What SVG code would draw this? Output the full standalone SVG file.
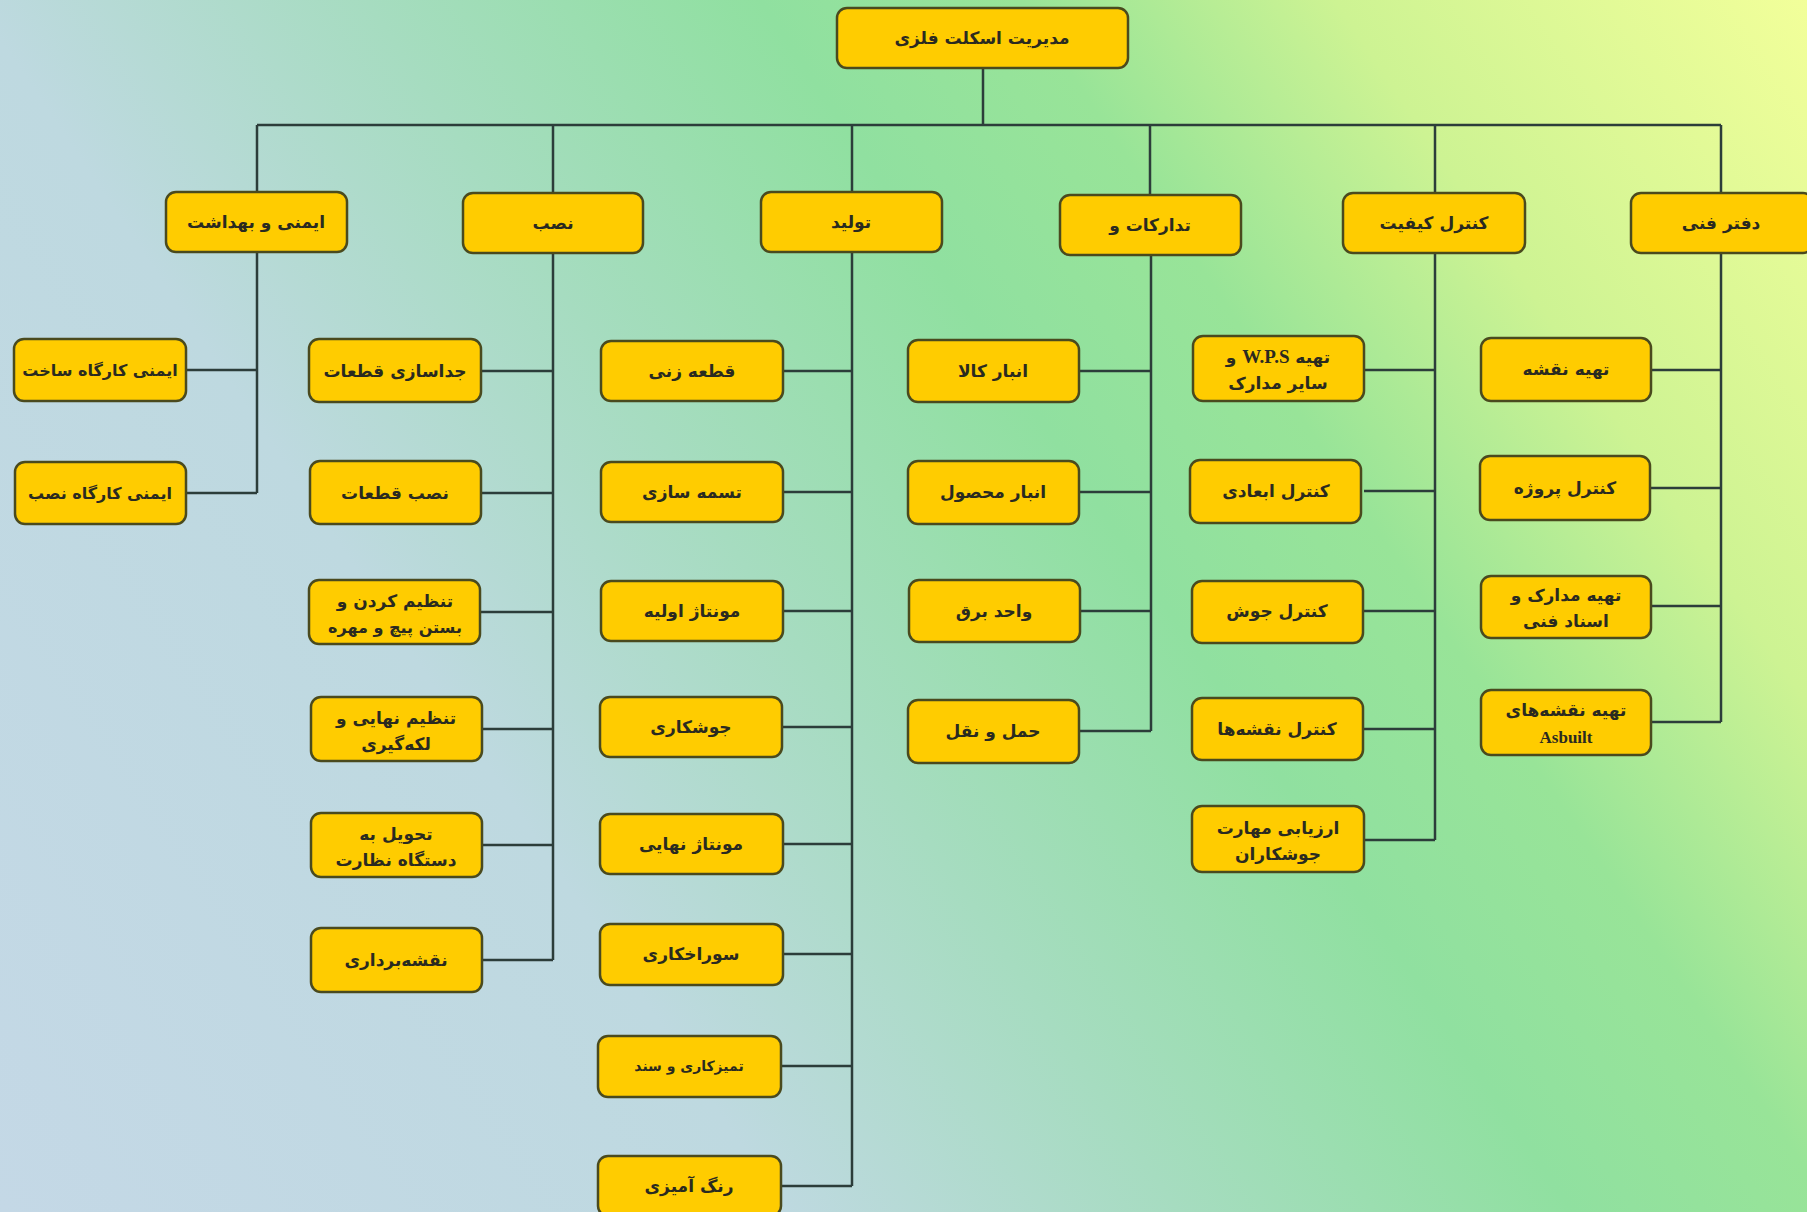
<svg xmlns="http://www.w3.org/2000/svg" width="1807" height="1212" viewBox="0 0 1807 1212">
<defs>
<linearGradient id="bg" gradientUnits="userSpaceOnUse" x1="0" y1="1212" x2="1807" y2="0">
<stop offset="0" stop-color="#c4d8e6"/>
<stop offset="0.3" stop-color="#bed9e0"/>
<stop offset="0.45" stop-color="#a6dcc0"/>
<stop offset="0.6" stop-color="#90e0a0"/>
<stop offset="0.7" stop-color="#98e498"/>
<stop offset="0.82" stop-color="#cdf393"/>
<stop offset="1" stop-color="#f2ff9a"/>
</linearGradient>
<style>
.b{fill:#ffcc00;stroke:#4a4a1e;stroke-width:2.5}
.t{font-family:"DejaVu Sans",sans-serif;font-weight:bold;font-size:17px;fill:#2a2a20;text-anchor:middle}
.m{font-size:16px}
.s{font-family:"DejaVu Sans",sans-serif;font-weight:bold;font-size:14px;fill:#2a2a20;text-anchor:middle}
.l{font-family:"Liberation Serif",serif;font-weight:bold}
.c{fill:none;stroke:#2c3d3a;stroke-width:2.5}
</style>
</defs>
<rect width="1807" height="1212" fill="url(#bg)"/>
<g id="connectors" class="c">
<path d="M983 68V125M257 125H1721M257 125V192M553 125V192M852 125V192M1150 125V195M1435 125V193M1721 125V193"/>
<path d="M257 252V493M186 370H257M186 493H257"/>
<path d="M553 252V960M481 371H553M481 493H553M481 612H553M481 729H553M481 845H553M481 960H553"/>
<path d="M852 252V1186M783 371H852M783 492H852M783 611H852M783 727H852M783 844H852M783 954H852M781 1066H852M781 1186H852"/>
<path d="M1151 255V731M1079 371H1151M1079 492H1151M1079 611H1151M1079 731H1151"/>
<path d="M1435 253V840M1364 370H1435M1364 491H1435M1364 611H1435M1364 729H1435M1364 840H1435"/>
<path d="M1721 253V722M1651 370H1721M1651 488H1721M1651 606H1721M1651 722H1721"/>
</g>
<g id="root"><rect class="b" x="837" y="8" width="291" height="60" rx="10"/><text class="t" x="982" y="44" direction="rtl">مدیریت اسکلت فلزی</text></g>
<g id="safety"><rect class="b" x="166" y="192" width="181" height="60" rx="10"/><text class="t" x="256" y="228" direction="rtl">ایمنی و بهداشت</text></g>
<g id="install"><rect class="b" x="463" y="193" width="180" height="60" rx="10"/><text class="t" x="553" y="229" direction="rtl">نصب</text></g>
<g id="production"><rect class="b" x="761" y="192" width="181" height="60" rx="10"/><text class="t" x="851" y="228" direction="rtl">تولید</text></g>
<g id="procurement"><rect class="b" x="1060" y="195" width="181" height="60" rx="10"/><text class="t" x="1150" y="231" direction="rtl">تدارکات و</text></g>
<g id="qc"><rect class="b" x="1343" y="193" width="182" height="60" rx="10"/><text class="t" x="1434" y="229" direction="rtl">کنترل کیفیت</text></g>
<g id="tech"><rect class="b" x="1631" y="193" width="182" height="60" rx="10"/><text class="t" x="1721" y="229" direction="rtl">دفتر فنی</text></g>

<g id="s1"><rect class="b" x="14" y="339" width="172" height="62" rx="10"/><text class="t m" x="100" y="376" direction="rtl">ایمنی کارگاه ساخت</text></g>
<g id="s2"><rect class="b" x="15" y="462" width="171" height="62" rx="10"/><text class="t m" x="100" y="499" direction="rtl">ایمنی کارگاه نصب</text></g>

<g id="i1"><rect class="b" x="309" y="339" width="172" height="63" rx="10"/><text class="t" x="395" y="377" direction="rtl">جداسازی قطعات</text></g>
<g id="i2"><rect class="b" x="310" y="461" width="171" height="63" rx="10"/><text class="t" x="395" y="499" direction="rtl">نصب قطعات</text></g>
<g id="i3"><rect class="b" x="309" y="580" width="171" height="64" rx="10"/><text class="t" x="395" y="607" direction="rtl">تنظیم کردن و</text><text class="t m" x="395" y="633" direction="rtl">بستن پیچ و مهره</text></g>
<g id="i4"><rect class="b" x="311" y="697" width="171" height="64" rx="10"/><text class="t" x="396" y="724" direction="rtl">تنظیم نهایی و</text><text class="t" x="396" y="750" direction="rtl">لکه‌گیری</text></g>
<g id="i5"><rect class="b" x="311" y="813" width="171" height="64" rx="10"/><text class="t" x="396" y="840" direction="rtl">تحویل به</text><text class="t" x="396" y="866" direction="rtl">دستگاه نظارت</text></g>
<g id="i6"><rect class="b" x="311" y="928" width="171" height="64" rx="10"/><text class="t" x="396" y="966" direction="rtl">نقشه‌برداری</text></g>

<g id="p1"><rect class="b" x="601" y="341" width="182" height="60" rx="10"/><text class="t" x="692" y="377" direction="rtl">قطعه زنی</text></g>
<g id="p2"><rect class="b" x="601" y="462" width="182" height="60" rx="10"/><text class="t" x="692" y="498" direction="rtl">تسمه سازی</text></g>
<g id="p3"><rect class="b" x="601" y="581" width="182" height="60" rx="10"/><text class="t" x="692" y="617" direction="rtl">مونتاژ اولیه</text></g>
<g id="p4"><rect class="b" x="600" y="697" width="182" height="60" rx="10"/><text class="t" x="691" y="733" direction="rtl">جوشکاری</text></g>
<g id="p5"><rect class="b" x="600" y="814" width="183" height="60" rx="10"/><text class="t" x="691" y="850" direction="rtl">مونتاژ نهایی</text></g>
<g id="p6"><rect class="b" x="600" y="924" width="183" height="61" rx="10"/><text class="t" x="691" y="960" direction="rtl">سوراخکاری</text></g>
<g id="p7"><rect class="b" x="598" y="1036" width="183" height="61" rx="10"/><text class="s" x="689" y="1071" direction="rtl">تمیزکاری و سند</text></g>
<g id="p8"><rect class="b" x="598" y="1156" width="183" height="60" rx="10"/><text class="t" x="689" y="1192" direction="rtl">رنگ آمیزی</text></g>

<g id="r1"><rect class="b" x="908" y="340" width="171" height="62" rx="10"/><text class="t" x="993" y="377" direction="rtl">انبار کالا</text></g>
<g id="r2"><rect class="b" x="908" y="461" width="171" height="63" rx="10"/><text class="t" x="993" y="498" direction="rtl">انبار محصول</text></g>
<g id="r3"><rect class="b" x="909" y="580" width="171" height="62" rx="10"/><text class="t" x="994" y="617" direction="rtl">واحد برق</text></g>
<g id="r4"><rect class="b" x="908" y="700" width="171" height="63" rx="10"/><text class="t" x="993" y="737" direction="rtl">حمل و نقل</text></g>

<g id="q1"><rect class="b" x="1193" y="336" width="171" height="65" rx="10"/><text class="t" x="1278" y="363" direction="rtl">تهیه <tspan class="l" font-size="19">W.P.S</tspan> و</text><text class="t" x="1278" y="389" direction="rtl">سایر مدارک</text></g>
<g id="q2"><rect class="b" x="1190" y="460" width="171" height="63" rx="10"/><text class="t" x="1276" y="497" direction="rtl">کنترل ابعادی</text></g>
<g id="q3"><rect class="b" x="1192" y="581" width="171" height="62" rx="10"/><text class="t" x="1277" y="617" direction="rtl">کنترل جوش</text></g>
<g id="q4"><rect class="b" x="1192" y="698" width="171" height="62" rx="10"/><text class="t" x="1277" y="735" direction="rtl">کنترل نقشه‌ها</text></g>
<g id="q5"><rect class="b" x="1192" y="806" width="172" height="66" rx="10"/><text class="t" x="1278" y="834" direction="rtl">ارزیابی مهارت</text><text class="t" x="1278" y="860" direction="rtl">جوشکاران</text></g>

<g id="d1"><rect class="b" x="1481" y="338" width="170" height="63" rx="10"/><text class="t" x="1566" y="375" direction="rtl">تهیه نقشه</text></g>
<g id="d2"><rect class="b" x="1480" y="456" width="170" height="64" rx="10"/><text class="t" x="1565" y="494" direction="rtl">کنترل پروژه</text></g>
<g id="d3"><rect class="b" x="1481" y="576" width="170" height="62" rx="10"/><text class="t" x="1566" y="601" direction="rtl">تهیه مدارک و</text><text class="t" x="1566" y="627" direction="rtl">اسناد فنی</text></g>
<g id="d4"><rect class="b" x="1481" y="690" width="170" height="65" rx="10"/><text class="t" x="1566" y="716" direction="rtl">تهیه نقشه‌های</text><text class="t l" x="1566" y="743" font-size="20">Asbuilt</text></g>
</svg>
